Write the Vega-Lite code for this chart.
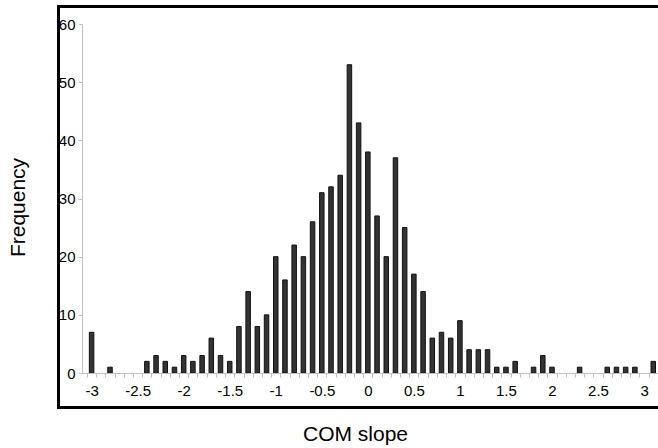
{
  "$schema": "https://vega.github.io/schema/vega-lite/v6.json",
  "autosize": {"type": "none"},
  "padding": {"left": 82, "top": 24, "right": 0, "bottom": 75},
  "width": 576,
  "height": 349,
  "background": "white",
  "config": {
    "view": {"stroke": null},
    "font": "Liberation Sans",
    "axis": {
      "labelFont": "Liberation Sans",
      "titleFont": "Liberation Sans",
      "labelColor": "#000000",
      "titleFontSize": 21,
      "titleFontWeight": "normal",
      "titleColor": "#000000",
      "domainColor": "#c0c0c0",
      "tickColor": "#c0c0c0",
      "tickSize": 4,
      "grid": false
    }
  },
  "data": {
    "values": [
      {"slope": -3.0, "count": 7},
      {"slope": -2.8, "count": 1},
      {"slope": -2.4, "count": 2},
      {"slope": -2.3, "count": 3},
      {"slope": -2.2, "count": 2},
      {"slope": -2.1, "count": 1},
      {"slope": -2.0, "count": 3},
      {"slope": -1.9, "count": 2},
      {"slope": -1.8, "count": 3},
      {"slope": -1.7, "count": 6},
      {"slope": -1.6, "count": 3},
      {"slope": -1.5, "count": 2},
      {"slope": -1.4, "count": 8},
      {"slope": -1.3, "count": 14},
      {"slope": -1.2, "count": 8},
      {"slope": -1.1, "count": 10},
      {"slope": -1.0, "count": 20},
      {"slope": -0.9, "count": 16},
      {"slope": -0.8, "count": 22},
      {"slope": -0.7, "count": 20},
      {"slope": -0.6, "count": 26},
      {"slope": -0.5, "count": 31},
      {"slope": -0.4, "count": 32},
      {"slope": -0.3, "count": 34},
      {"slope": -0.2, "count": 53},
      {"slope": -0.1, "count": 43},
      {"slope": 0.0, "count": 38},
      {"slope": 0.1, "count": 27},
      {"slope": 0.2, "count": 20},
      {"slope": 0.3, "count": 37},
      {"slope": 0.4, "count": 25},
      {"slope": 0.5, "count": 17},
      {"slope": 0.6, "count": 14},
      {"slope": 0.7, "count": 6},
      {"slope": 0.8, "count": 7},
      {"slope": 0.9, "count": 6},
      {"slope": 1.0, "count": 9},
      {"slope": 1.1, "count": 4},
      {"slope": 1.2, "count": 4},
      {"slope": 1.3, "count": 4},
      {"slope": 1.4, "count": 1},
      {"slope": 1.5, "count": 1},
      {"slope": 1.6, "count": 2},
      {"slope": 1.8, "count": 1},
      {"slope": 1.9, "count": 3},
      {"slope": 2.0, "count": 1},
      {"slope": 2.3, "count": 1},
      {"slope": 2.6, "count": 1},
      {"slope": 2.7, "count": 1},
      {"slope": 2.8, "count": 1},
      {"slope": 2.9, "count": 1},
      {"slope": 3.1, "count": 2}
    ]
  },
  "resolve": {"axis": {"x": "independent", "y": "independent"}},
  "layer": [
    {
      "mark": {"type": "bar", "size": 4.5, "fill": "#333333", "stroke": "#111111", "strokeWidth": 1, "clip": true},
      "encoding": {
        "x": {
          "field": "slope",
          "type": "quantitative",
          "scale": {"domain": [-3.05, 3.097], "nice": false, "zero": false},
          "axis": {
            "orient": "bottom",
            "title": null,
            "labels": false,
            "domain": true,
            "domainColor": "#c0c0c0",
            "ticks": true,
            "tickColor": "#c0c0c0",
            "tickSize": 4,
            "values": [-3.05, -2.95, -2.85, -2.75, -2.65, -2.55, -2.45, -2.35, -2.25, -2.15, -2.05, -1.95, -1.85, -1.75, -1.65, -1.55, -1.45, -1.35, -1.25, -1.15, -1.05, -0.95, -0.85, -0.75, -0.65, -0.55, -0.45, -0.35, -0.25, -0.15, -0.05, 0.05, 0.15, 0.25, 0.35, 0.45, 0.55, 0.65, 0.75, 0.85, 0.95, 1.05, 1.15, 1.25, 1.35, 1.45, 1.55, 1.65, 1.75, 1.85, 1.95, 2.05, 2.15, 2.25, 2.35, 2.45, 2.55, 2.65, 2.75, 2.85, 2.95, 3.05]
          }
        },
        "y": {
          "field": "count",
          "type": "quantitative",
          "scale": {"domain": [0, 60], "nice": false},
          "axis": {
            "title": "Frequency",
            "values": [0, 10, 20, 30, 40, 50, 60],
            "labelFont": "Liberation Sans",
            "labelFontSize": 15,
            "labelColor": "#000000",
            "labelPadding": 3,
            "domainColor": "#c0c0c0",
            "tickColor": "#c0c0c0",
            "tickSize": 4,
            "titleFont": "Liberation Sans",
            "titleFontSize": 21,
            "titleFontWeight": "normal",
            "titleColor": "#000000",
            "titleX": -64,
            "titleY": 183,
            "titleAngle": -90,
            "titleAlign": "center",
            "titleBaseline": "middle"
          }
        }
      }
    },
    {
      "mark": {"type": "rect", "filled": false, "stroke": "#000000", "strokeWidth": 2.5, "clip": false},
      "encoding": {
        "x": {
          "datum": -3.36,
          "type": "quantitative",
          "scale": {"domain": [-3.05, 3.097], "nice": false, "zero": false},
          "axis": {
            "orient": "bottom",
            "title": "COM slope",
            "domain": false,
            "ticks": false,
            "labelFont": "Liberation Sans",
            "labelFontSize": 15,
            "labelColor": "#000000",
            "labelPadding": 10,
            "labelOverlap": false,
            "values": [-3, -2.5, -2, -1.5, -1, -0.5, 0, 0.5, 1, 1.5, 2, 2.5, 3],
            "labelExpr": "datum.value + ''",
            "titleFont": "Liberation Sans",
            "titleFontSize": 21,
            "titleFontWeight": "normal",
            "titleColor": "#000000",
            "titleX": 273,
            "titleY": 67,
            "titleAlign": "center",
            "titleBaseline": "alphabetic"
          }
        },
        "x2": {"datum": 3.4},
        "y": {
          "datum": -5.97,
          "type": "quantitative",
          "scale": {"domain": [0, 60], "nice": false},
          "axis": null
        },
        "y2": {"datum": 63.04}
      }
    }
  ]
}
